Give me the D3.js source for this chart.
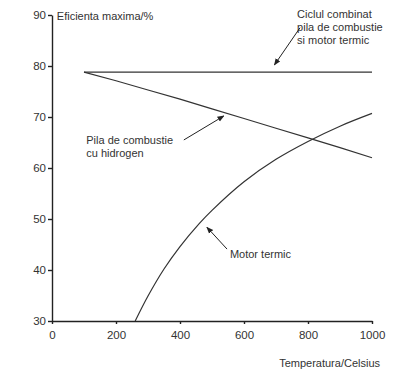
<!DOCTYPE html>
<meta charset="utf-8">
<title>Eficienta maxima</title>
<style>
body { margin: 0; background: #fff; }
svg { font-family: "Liberation Sans", Arial, sans-serif; }
.axis path, .axis line { stroke: #222; stroke-width: 1.4; }
.axis text { font-size: 11.5px; fill: #333; }
.curve { fill: none; stroke: #333; stroke-width: 1.2; }
.note { font-size: 11px; fill: #333; }
</style>
<body>
<svg width="402" height="372"></svg>
<script src="https://d3js.org/d3.v7.min.js"></script>
<script>

// data
var xTicks = [0, 200, 400, 600, 800, 1000];
var yTicks = [30, 40, 50, 60, 70, 80, 90];

var combTemp = [100, 1000];
var combEff = [78.8, 78.8];

var fcTemp = [100, 200, 300, 400, 500, 600, 700, 800, 900, 1000];
var fcEff = [78.8, 77.1, 75.3, 73.5, 71.6, 69.7, 67.8, 65.9, 64.0, 62.0];

var heTemp = [260, 300, 350, 400, 460, 500, 600, 700, 800, 900, 1000];
var heEff = [30.0, 34.9, 40.2, 44.6, 49.1, 51.7, 57.3, 61.7, 65.2, 68.2, 70.7];

var svg = d3.select("svg"),
    margin = {top: 15, left: 52},
    width = 320,
    height = 306;

var x = d3.scaleLinear().domain([0, 1000]).range([0, width]),
    y = d3.scaleLinear().domain([30, 90]).range([height, 0]);

var g = svg.append("g")
    .attr("transform", "translate(" + margin.left + "," + margin.top + ")");

svg.append("defs").append("marker")
    .attr("id", "arr")
    .attr("viewBox", "0 0 10 10")
    .attr("refX", 9).attr("refY", 5)
    .attr("markerWidth", 7).attr("markerHeight", 7)
    .attr("orient", "auto")
  .append("path")
    .attr("d", "M0,1L10,5L0,9z")
    .attr("fill", "#222");

g.append("g")
    .attr("class", "axis")
    .attr("transform", "translate(0," + height + ")")
    .call(d3.axisBottom(x).tickValues(xTicks).tickFormat(d3.format("d"))
      .tickSize(3).tickSizeOuter(0).tickPadding(7));

g.append("g")
    .attr("class", "axis")
    .call(d3.axisLeft(y).tickValues(yTicks).tickSize(4).tickSizeOuter(0).tickPadding(2));

g.selectAll(".axis .domain").attr("stroke-width", 1.8);

var line = d3.line()
    .x(function(d) { return x(d[0]); })
    .y(function(d) { return y(d[1]); });

g.append("path").attr("class", "curve").attr("d", line(d3.zip(combTemp, combEff)));
g.append("path").attr("class", "curve").attr("d", line(d3.zip(fcTemp, fcEff)));
g.append("path").attr("class", "curve")
    .attr("d", line.curve(d3.curveCatmullRom)(d3.zip(heTemp, heEff)));

// annotations: text and arrows in data coordinates
var notes = [
  {t: 15, v: 89.0, lines: ["Eficienta maxima/%"]},
  {t: 766, v: 89.4, lines: ["Ciclul combinat", "pila de combustie", "si motor termic"]},
  {t: 107, v: 64.8, lines: ["Pila de combustie", "cu hidrogen"]},
  {t: 556, v: 42.4, lines: ["Motor termic"]}
];

notes.forEach(function(n) {
  var tx = g.append("text").attr("class", "note")
      .attr("x", x(n.t)).attr("y", y(n.v));
  n.lines.forEach(function(s, i) {
    tx.append("tspan").attr("x", x(n.t)).attr("dy", i ? 13 : 0).text(s);
  });
});

var arrows = [
  [[775, 87.5], [695, 80.2]],
  [[412, 65.5], [537, 70.2]],
  [[547, 44.1], [484, 48.4]]
];

arrows.forEach(function(a) {
  g.append("line")
    .attr("x1", x(a[0][0])).attr("y1", y(a[0][1]))
    .attr("x2", x(a[1][0])).attr("y2", y(a[1][1]))
    .attr("stroke", "#222").attr("stroke-width", 1)
    .attr("marker-end", "url(#arr)");
});

svg.append("text").attr("class", "note")
    .attr("x", margin.left + x(1000) + 8)
    .attr("y", margin.top + height + 46)
    .attr("text-anchor", "end")
    .text("Temperatura/Celsius");

</script>
</body>
